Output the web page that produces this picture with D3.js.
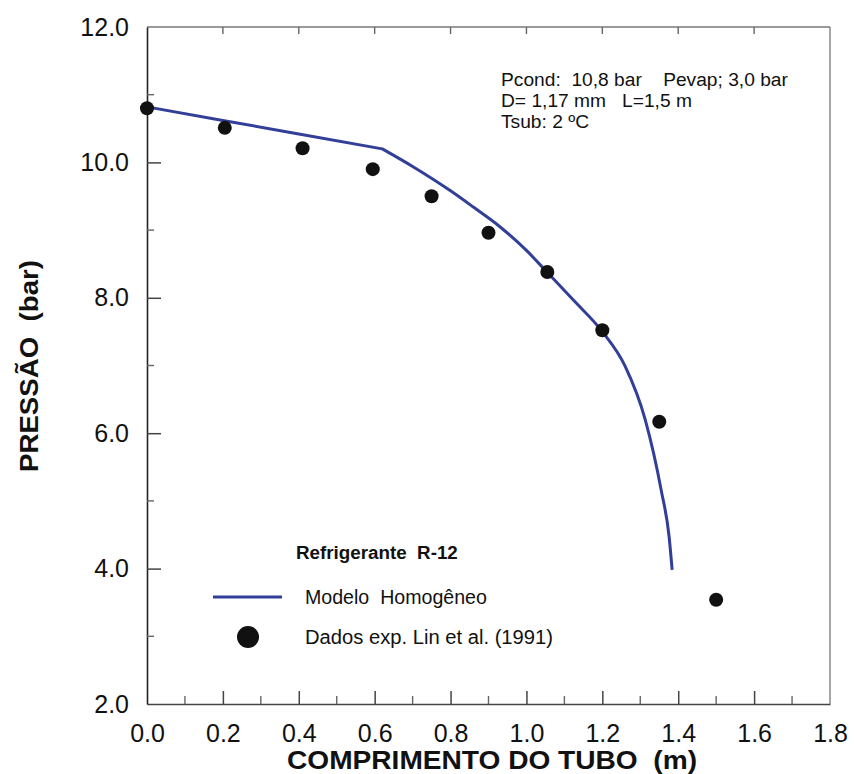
<!DOCTYPE html>
<html>
<head>
<meta charset="utf-8">
<script src="https://cdn.jsdelivr.net/npm/d3@7"></script>
<style>
  html, body { margin: 0; padding: 0; background: #fff; }
  svg text { font-family: "Liberation Sans", Arial, Helvetica, sans-serif; fill: #111; }
</style>
</head>
<body>
<div id="chart"></div>
<script>
// --- DATA ---
// model curve (Modelo Homogeneo); straight up to the kink at 0.62 m
const modelX = [0.00, 0.20, 0.40, 0.62, 0.70, 0.80, 0.86, 0.93, 1.00, 1.054, 1.123, 1.20, 1.26, 1.313, 1.355, 1.376, 1.384];
const modelY = [10.82, 10.62, 10.42, 10.20, 9.94, 9.58, 9.34, 9.05, 8.70, 8.38, 7.97, 7.50, 6.99, 6.20, 5.16, 4.47, 3.98];
const kinkIndex = 3;

// experimental points (Lin et al. 1991)
const expX = [0.00, 0.205, 0.41, 0.595, 0.75, 0.90, 1.055, 1.20, 1.35, 1.50];
const expY = [10.80, 10.51, 10.21, 9.90, 9.50, 8.96, 8.38, 7.52, 6.17, 3.54];

const xTicks = [0.0, 0.2, 0.4, 0.6, 0.8, 1.0, 1.2, 1.4, 1.6, 1.8];
const xMinor = [0.1, 0.3, 0.5, 0.7, 0.9, 1.1, 1.3, 1.5, 1.7];
const yTicks = [2, 4, 6, 8, 10, 12];
const yMinor = [3, 5, 7, 9, 11];

const infoLines = [
  'Pcond:  10,8 bar    Pevap; 3,0 bar',
  'D= 1,17 mm   L=1,5 m',
  'Tsub: 2 ºC'
];

// --- SETUP ---
const width = 854, height = 774;
const plot = { left: 147, right: 830, top: 27, bottom: 704 };

const svg = d3.select('#chart').append('svg')
  .attr('width', width)
  .attr('height', height);

const x = d3.scaleLinear().domain([0, 1.8]).range([plot.left, plot.right]);
const y = d3.scaleLinear().domain([2, 12]).range([plot.bottom, plot.top]);

// frame: top + right grey
svg.append('line')
  .attr('x1', plot.left).attr('x2', plot.right)
  .attr('y1', plot.top).attr('y2', plot.top)
  .attr('stroke', '#777').attr('stroke-width', 1.3);
svg.append('line')
  .attr('x1', plot.right).attr('x2', plot.right)
  .attr('y1', plot.top).attr('y2', plot.bottom)
  .attr('stroke', '#777').attr('stroke-width', 1.3);

// bottom axis: labels + inward ticks
const xAxis = svg.append('g')
  .attr('transform', `translate(0,${plot.bottom})`)
  .call(d3.axisBottom(x).tickValues(xTicks).tickFormat(d3.format('.1f'))
    .tickSizeInner(-13).tickSizeOuter(0).tickPadding(20));
xAxis.select('.domain').attr('stroke', '#444').attr('stroke-width', 1.5);
xAxis.selectAll('.tick line')
  .attr('y1', 0).attr('y2', -13)
  .style('stroke', '#444').style('stroke-width', '1.5px');
xAxis.selectAll('.tick').filter(d => d === 0 || d === 1.8).select('line').remove();
xAxis.selectAll('.tick text')
  .attr('y', 20)
  .style('font-size', '25px')
  .style('font-family', '"Liberation Sans", Arial, sans-serif')
  .attr('fill', '#111');

// left axis: labels + inward ticks
const yAxis = svg.append('g')
  .attr('transform', `translate(${plot.left},0)`)
  .call(d3.axisLeft(y).tickValues(yTicks).tickFormat(d3.format('.1f'))
    .tickSizeInner(-14).tickSizeOuter(0).tickPadding(18));
yAxis.select('.domain').attr('stroke', '#222').attr('stroke-width', 1.6);
yAxis.selectAll('.tick line')
  .attr('x1', 0).attr('x2', 14)
  .style('stroke', '#444').style('stroke-width', '1.5px');
yAxis.selectAll('.tick').filter(d => d === 2 || d === 12).select('line').remove();
yAxis.selectAll('.tick text')
  .attr('x', -18)
  .style('font-size', '25px')
  .style('font-family', '"Liberation Sans", Arial, sans-serif')
  .attr('fill', '#111');

// minor / top ticks
const ticks = svg.append('g');
ticks.selectAll('line.xbm')
  .data(xMinor)
  .enter().append('line')
    .attr('class', 'xbm')
    .attr('x1', d => x(d)).attr('x2', d => x(d))
    .attr('y1', plot.bottom).attr('y2', plot.bottom - 8)
    .style('stroke', '#666').style('stroke-width', '1.4px');
ticks.selectAll('line.xt')
  .data(xTicks.slice(1, -1))
  .enter().append('line')
    .attr('class', 'xt')
    .attr('x1', d => x(d)).attr('x2', d => x(d))
    .attr('y1', plot.top).attr('y2', plot.top + 7)
    .style('stroke', '#666').style('stroke-width', '1.4px');
ticks.selectAll('line.ylm')
  .data(yMinor)
  .enter().append('line')
    .attr('class', 'ylm')
    .attr('x1', plot.left).attr('x2', plot.left + 7)
    .attr('y1', d => y(d)).attr('y2', d => y(d))
    .style('stroke', '#666').style('stroke-width', '1.4px');

// axis titles
svg.append('text')
  .attr('x', 492)
  .attr('y', 769)
  .attr('text-anchor', 'middle')
  .attr('textLength', 410)
  .attr('lengthAdjust', 'spacingAndGlyphs')
  .style('font-size', '26px')
  .style('font-weight', 'bold')
  .attr('xml:space', 'preserve')
  .text('COMPRIMENTO DO TUBO  (m)');

svg.append('text')
  .attr('transform', 'translate(38,366) rotate(-90)')
  .attr('text-anchor', 'middle')
  .attr('textLength', 212)
  .attr('lengthAdjust', 'spacingAndGlyphs')
  .style('font-size', '26px')
  .style('font-weight', 'bold')
  .attr('xml:space', 'preserve')
  .text('PRESSÃO  (bar)');

// --- MODEL LINE ---
const model = modelX.map((d, i) => ({ x: d, y: modelY[i] }));
const straight = d3.line().x(d => x(d.x)).y(d => y(d.y));
const curved = d3.line().x(d => x(d.x)).y(d => y(d.y)).curve(d3.curveMonotoneX);

const modelPath = straight(model.slice(0, kinkIndex + 1)) +
  curved(model.slice(kinkIndex)).replace(/^M/, 'L');

svg.append('path')
  .attr('d', modelPath)
  .attr('fill', 'none')
  .attr('stroke', '#323f98')
  .attr('stroke-width', 3)
  .attr('stroke-linejoin', 'round');

// --- EXPERIMENTAL POINTS ---
const exp = expX.map((d, i) => ({ x: d, y: expY[i] }));
svg.selectAll('circle.exp')
  .data(exp)
  .enter().append('circle')
    .attr('class', 'exp')
    .attr('cx', d => x(d.x))
    .attr('cy', d => y(d.y))
    .attr('r', 7)
    .attr('fill', '#111');

// --- INFO TEXT ---
svg.append('g').selectAll('text')
  .data(infoLines)
  .enter().append('text')
    .attr('x', 501)
    .attr('y', (d, i) => 86 + i * 21)
    .attr('xml:space', 'preserve')
    .style('font-size', '19.2px')
    .text(d => d);

// --- LEGEND ---
const legend = svg.append('g');
legend.append('text')
  .attr('x', 296).attr('y', 559)
  .attr('xml:space', 'preserve')
  .style('font-size', '18.8px')
  .style('font-weight', 'bold')
  .text('Refrigerante  R-12');

legend.append('line')
  .attr('x1', 213).attr('x2', 282)
  .attr('y1', 597).attr('y2', 597)
  .attr('stroke', '#323f98')
  .attr('stroke-width', 3);
legend.append('text')
  .attr('x', 305).attr('y', 604)
  .attr('xml:space', 'preserve')
  .style('font-size', '19.6px')
  .text('Modelo  Homogêneo');

legend.append('circle')
  .attr('cx', 248).attr('cy', 637)
  .attr('r', 11)
  .attr('fill', '#111');
legend.append('text')
  .attr('x', 305).attr('y', 644)
  .attr('xml:space', 'preserve')
  .attr('textLength', 248)
  .attr('lengthAdjust', 'spacingAndGlyphs')
  .style('font-size', '19.6px')
  .text('Dados exp. Lin et al. (1991)');
</script>
</body>
</html>
